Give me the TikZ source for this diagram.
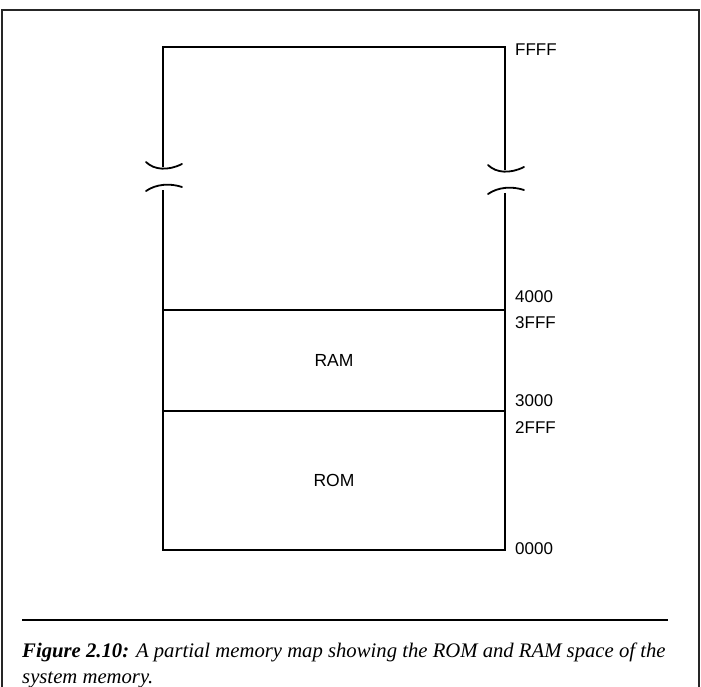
\documentclass[tikz,border=0pt]{standalone}
\usepackage{fontspec}
\setmainfont{Liberation Serif}
\newfontfamily\rotulo{Liberation Sans}
\usetikzlibrary{positioning}
\tikzset{
  marco/.style={line width=1.6pt, black!85},
  bloque/.style={rectangle, draw, line width=1.8pt, minimum width=342pt,
    inner sep=0pt, outer sep=0pt, font=\rotulo\fontsize{17.5}{20}\selectfont},
  borde/.style={line width=1.8pt},
  direccion/.style={inner sep=0pt, font=\rotulo\fontsize{17}{20}\selectfont},
  corte/.style={line width=1.8pt, line cap=round}
}

\begin{document}
\begin{tikzpicture}[x=1pt, y=-1pt]
  \useasboundingbox (0,0) rectangle (701,687);

  % --- Marco de la figura ---
  \draw[marco] (2,687) -- (2,10) -- (699,10) -- (699,687);

  % --- Bloques ROM y RAM ---
  \node[bloque, minimum height=139pt] (rom) at (334,480.5) {ROM};
  \node[bloque, minimum height=101pt] (ram) at (334,360.5) {RAM};

  % --- Zona superior (cortada) ---
  \coordinate (sup izq) at (163,47);
  \coordinate (sup der) at (505,47);
  \draw[borde] (ram.north west) -- (163,190);
  \draw[borde] (163,167) -- (sup izq) -- (sup der) -- (505,170);
  \draw[borde] (505,193) -- (ram.north east);

  % marcas de corte
  \draw[corte] (146,162) .. controls (154,170) and (168,171) .. (182,164);
  \draw[corte] (146,191) .. controls (156,184) and (170,183) .. (182,187);
  \draw[corte] (488,165) .. controls (496,173) and (510,174) .. (524,167);
  \draw[corte] (488,194) .. controls (498,187) and (512,186) .. (524,190);

  % --- Direcciones ---
  \node[direccion, right=10pt of sup der, yshift=-3pt] (ffff) {FFFF};
  \node[direccion, right=10pt of ram.north east, yshift=13pt] (d4000) {4000};
  \node[direccion, right=10pt of ram.north east, yshift=-13pt] (d3fff) {3FFF};
  \node[direccion, right=10pt of rom.north east, yshift=10pt] (d3000) {3000};
  \node[direccion, right=10pt of rom.north east, yshift=-17pt] (d2fff) {2FFF};
  \node[direccion, right=10pt of rom.south east, yshift=1pt] (d0000) {0000};

  % --- Pie de figura ---
  \draw[borde] (22,620) -- (668,620);
  \node[anchor=base west, inner sep=0pt, align=left,
        font=\itshape\fontsize{20.7}{26}\selectfont] (pie) at (22,683)
    {\textbf{Figure 2.10:} A partial memory map showing the ROM and RAM space of the\\
     system memory.};

\end{tikzpicture}
\end{document}
